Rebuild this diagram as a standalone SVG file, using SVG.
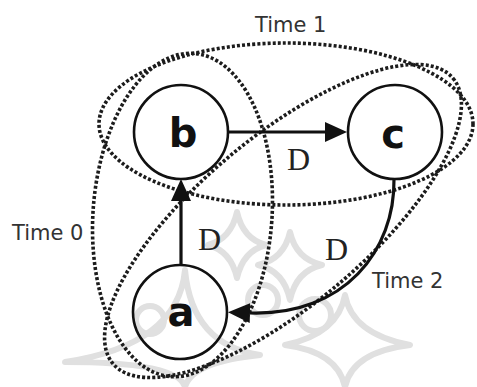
<svg xmlns="http://www.w3.org/2000/svg" width="477" height="387" viewBox="0 0 477 387">
<style>
.wm{fill:none;stroke:#e0e0e0;stroke-width:6;stroke-linejoin:round}
.grp{fill:none;stroke:#1c1c1c;stroke-width:3.6;stroke-dasharray:3 2.1}
.node circle{fill:none;stroke:#111;stroke-width:2.6}
.node text{font-family:"DejaVu Sans","Liberation Sans",sans-serif;font-weight:bold;font-size:40px;text-anchor:middle;fill:#111}
.edge{fill:none;stroke:#111;stroke-width:3.2}
.d{font-family:"Liberation Serif","DejaVu Serif",serif;font-size:32px;fill:#222}
.t{font-family:"DejaVu Sans","Liberation Sans",sans-serif;font-size:21px;fill:#333}
</style>
<defs>
<marker id="ah" markerUnits="userSpaceOnUse" markerWidth="22" markerHeight="20" viewBox="0 0 22 20" refX="0" refY="10" orient="auto">
<path d="M0,0 L22,10 L0,20 z" fill="#111"/>
</marker>
</defs>
<rect width="477" height="387" fill="#fff"/>
<g id="watermark">
<path class="wm" d="M237,212 Q243,239 266,245 Q243,251 237,278 Q231,251 208,245 Q231,239 237,212 z"/>
<path class="wm" d="M290,232 Q296,259 322,265 Q296,271 290,300 Q284,271 258,265 Q284,259 290,232 z"/>
<path class="wm" d="M345,295 Q352,334 410,345 Q352,352 345,387 Q338,352 285,345 Q338,334 345,295 z"/>
<path class="wm" d="M185,270 Q192,345 260,355 Q192,362 185,387 Q178,362 65,362 Q178,345 185,270 z"/>
<circle class="wm" cx="263" cy="300" r="15"/>
<circle class="wm" cx="315" cy="315" r="16"/>
<circle class="wm" cx="150" cy="320" r="14"/>
</g>
<g id="groups">
<ellipse id="time0" class="grp" cx="182.5" cy="215" rx="89.5" ry="162" transform="rotate(4 182.5 215)"/>
<ellipse id="time1" class="grp" cx="286" cy="124" rx="187" ry="81"/>
<ellipse id="time2" class="grp" cx="283" cy="221" rx="222" ry="84" transform="rotate(-40 283 221)"/>
</g>
<g id="connectors">
<path class="edge" d="M228,132 L325,132" marker-end="url(#ah)"/>
<path class="edge" d="M181,265 L181,201" marker-end="url(#ah)"/>
<path class="edge" d="M394,179 C395,250 345,316 250,313" marker-end="url(#ah)"/>
<text class="d" x="287" y="170">D</text>
<text class="d" x="198" y="250">D</text>
<text class="d" x="325" y="260">D</text>
</g>
<g id="node-b" class="node"><circle cx="181" cy="132" r="47"/><text x="183" y="147">b</text></g>
<g id="node-c" class="node"><circle cx="395" cy="132" r="47"/><text x="393" y="148">c</text></g>
<g id="node-a" class="node"><circle cx="180" cy="312" r="47"/><text x="181" y="326">a</text></g>
<g id="labels">
<text class="t" x="255" y="32">Time 1</text>
<text class="t" x="12" y="240">Time 0</text>
<text class="t" x="372" y="288">Time 2</text>
</g>
</svg>
